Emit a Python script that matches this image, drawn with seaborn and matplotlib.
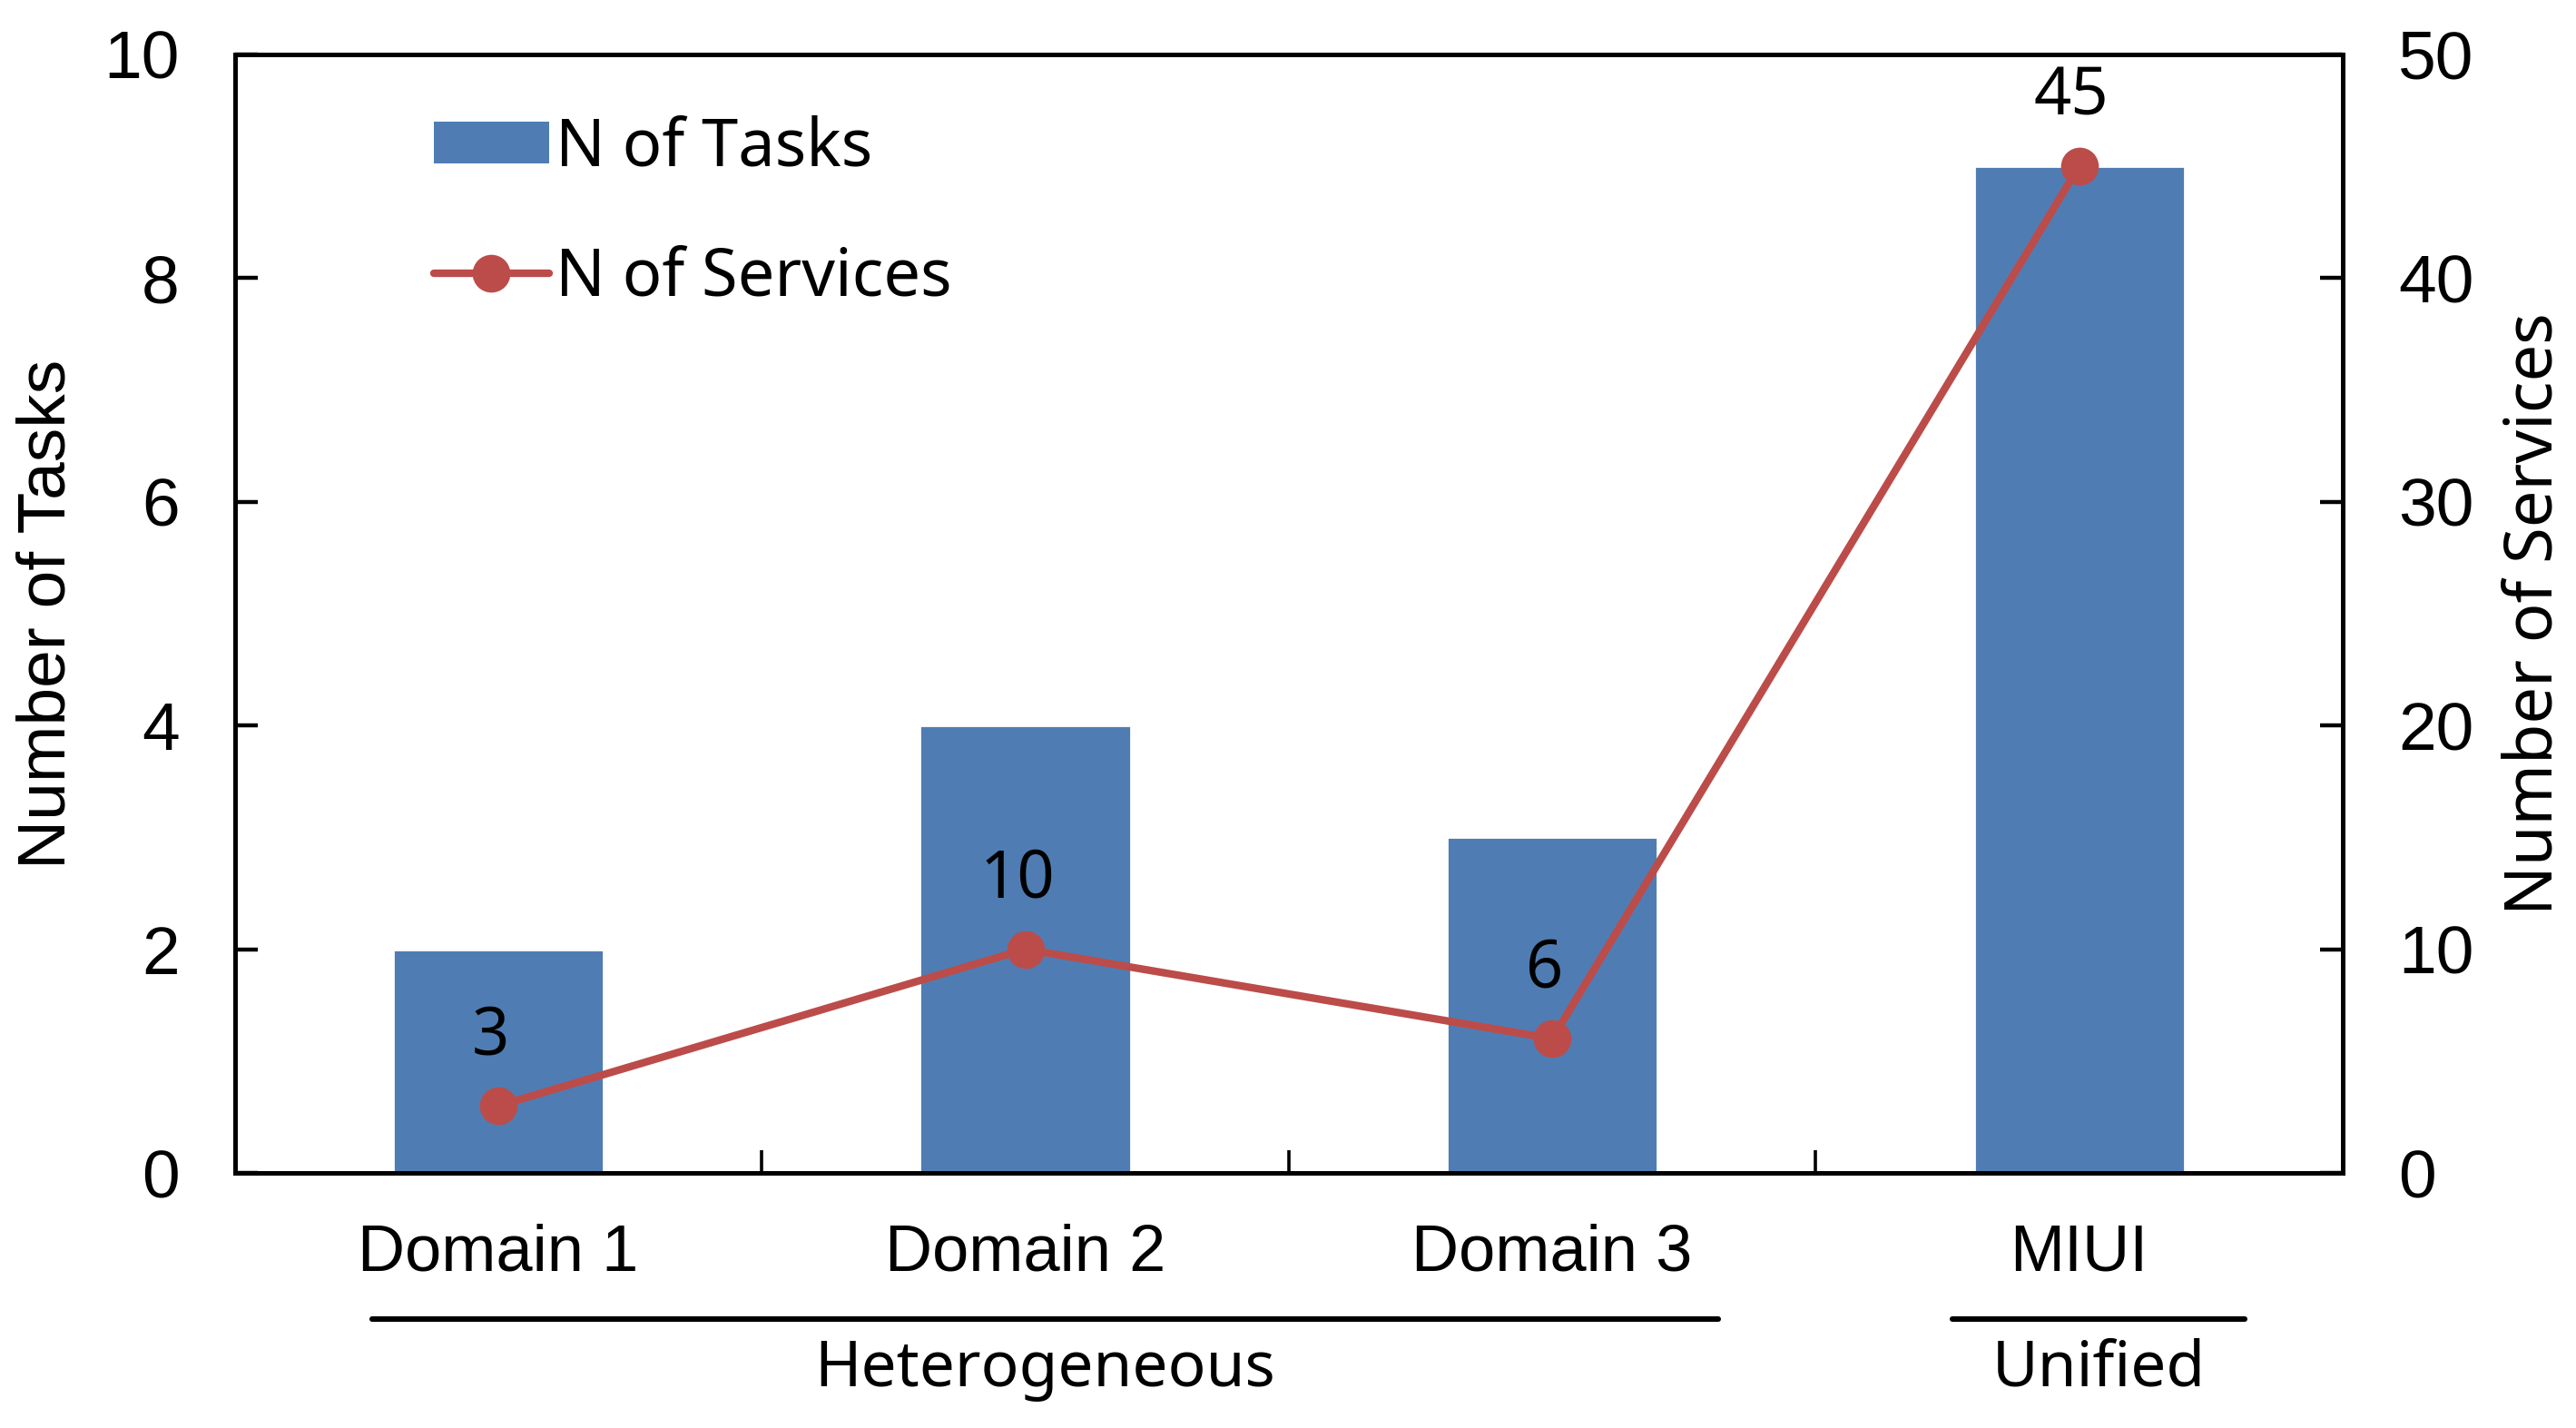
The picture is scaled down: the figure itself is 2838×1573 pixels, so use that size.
import numpy as np
import pandas as pd
import matplotlib
matplotlib.use("Agg")
import matplotlib.pyplot as plt
import matplotlib.transforms as mtransforms
from matplotlib.patches import Patch
from matplotlib.lines import Line2D
import seaborn as sns

# ---- data ----
categories = ["Domain 1", "Domain 2", "Domain 3", "MIUI"]
n_tasks = [2, 4, 3, 9]
n_services = [3, 10, 6, 45]
group_names = ["Heterogeneous", "Unified"]
group_members = [["Domain 1", "Domain 2", "Domain 3"], ["MIUI"]]
left_ticks = [0, 2, 4, 6, 8, 10]
right_ticks = [0, 10, 20, 30, 40, 50]
legend_labels = ["N of Tasks", "N of Services"]

sns.set_theme(style="ticks")
plt.rcParams['font.family'] = ['Liberation Sans', 'DejaVu Sans']
plt.rcParams.update({"text.color": "black", "axes.labelcolor": "black",
                     "xtick.color": "black", "ytick.color": "black",
                     "axes.edgecolor": "black"})

BAR = "#4F7DB3"
RED = "#BC4C49"
ALT = ['Noto Sans', 'DejaVu Sans']

fig = plt.figure(figsize=(14.19, 7.865), dpi=200)
ax = fig.add_axes([0.0912, 0.1786, 0.9094 - 0.0912, 0.962 - 0.1786])

df = pd.DataFrame({"category": categories, "tasks": n_tasks,
                   "services": n_services})
df["pos"] = np.arange(len(categories))

sns.barplot(data=df, x="category", y="tasks", color=BAR, saturation=1,
            width=0.4, ax=ax, zorder=2)
ax.set_xlim(-0.5, 3.5)
ax.set_ylim(0, 10)
ax.set_xlabel("")

ax2 = ax.twinx()
sns.lineplot(data=df, x="pos", y="services", color=RED, lw=3.0, marker="o",
             markersize=15, markeredgewidth=0, legend=False, ax=ax2)
ax2.set_ylim(0, 50)
ax2.set_xlim(-0.5, 3.5)

# ticks
ax.set_xticks(range(len(categories)))
ax.set_xticklabels(categories)
ax.tick_params(axis="x", which="major", length=0, pad=20, labelsize=26,
               labelcolor="black")
ax.set_xticks([0.5, 1.5, 2.5], minor=True)
ax.tick_params(axis="x", which="minor", direction="in", length=9, width=1.3,
               bottom=True, color="black")
ax.set_yticks(left_ticks)
ax.tick_params(axis="y", direction="in", length=9, width=1.6, pad=22,
               labelsize=27, left=True, color="black", labelcolor="black")
ax2.set_yticks(right_ticks)
ax2.tick_params(axis="y", direction="in", length=9, width=1.6, pad=22,
                labelsize=27, right=True, color="black", labelcolor="black")
for lab in ax2.get_yticklabels():
    lab.set_family(['Liberation Sans', 'DejaVu Sans'])

for a in (ax, ax2):
    for s in a.spines.values():
        s.set_visible(True)
        s.set_color("black")
        s.set_linewidth(1.8)

ax.set_ylabel("Number of Tasks", fontsize=27, labelpad=10, color="black")
ax2.set_ylabel("Number of Services", fontsize=26, labelpad=11, family=ALT,
               color="black")

# data labels
for x, v in zip(df["pos"], n_services):
    ax2.annotate(str(v), (x, v), xytext=(-3, 14), textcoords="offset points",
                 ha="center", va="bottom", fontsize=26, family=ALT,
                 color="black")

# legend
handles = [Patch(facecolor=BAR, edgecolor="none"),
           Line2D([], [], color=RED, lw=3.0, marker="o", markersize=15,
                  markeredgewidth=0)]
leg = ax2.legend(handles, legend_labels, loc="center left",
                 bbox_to_anchor=(0.082, 0.858), frameon=False,
                 handlelength=1.75, handleheight=0.6, handletextpad=0.1,
                 labelspacing=0.95, borderaxespad=0,
                 prop={"family": ALT, "size": 26})
for t in leg.get_texts():
    t.set_color("black")

# group brackets
trans = mtransforms.blended_transform_factory(ax.transData, ax.transAxes)
for name, members in zip(group_names, group_members):
    pos = [categories.index(m) for m in members]
    x0, x1 = min(pos) - 0.24, max(pos) + 0.315
    ax.plot([x0, x1], [-0.131, -0.131], transform=trans, color="black",
            lw=2.2, clip_on=False)
    ax.text((x0 + x1) / 2, -0.176, name, transform=trans, ha="center",
            va="center", fontsize=25, family=ALT, color="black")

fig.savefig("out.png", dpi=200)
